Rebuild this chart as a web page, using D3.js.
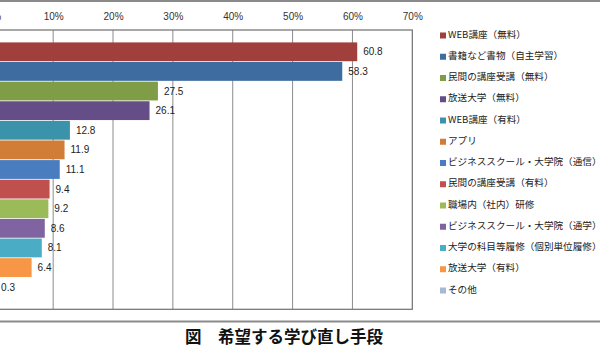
<!DOCTYPE html>
<html><head><meta charset="utf-8">
<script src="https://cdn.jsdelivr.net/npm/d3@7"></script>
<style>html,body{margin:0;padding:0;background:#fff;overflow:hidden}</style>
</head><body>
<svg id="c" width="600" height="359"></svg>
<script>
const categories = ["WEB講座（無料）","書籍など書物（自主学習）","民間の講座受講（無料）","放送大学（無料）","WEB講座（有料）","アプリ","ビジネススクール・大学院（通信）","民間の講座受講（有料）","職場内（社内）研修","ビジネススクール・大学院（通学）","大学の科目等履修（個別単位履修）","放送大学（有料）","その他"];
const values = [60.8,58.3,27.5,26.1,12.8,11.9,11.1,9.4,9.2,8.6,8.1,6.4,0.3];
const colors = ["#A13F3D","#3E6CA0","#7F9C47","#654E87","#3A93AA","#D17D38","#4A7DBF","#C0504D","#9BBB59","#8064A2","#4BACC6","#F79646","#A7B7D8"];
const ticks = [0,10,20,30,40,50,60,70];
const title = "図　希望する学び直し手段";

const svg = d3.select("#c");
const x = d3.scaleLinear().domain([0,70]).range([-6.7,412.3]);
const y = d3.scaleBand().domain(categories).range([42,297]).paddingInner(0);
const plotTop = 30, plotBottom = 309.3;

// outer chart border
svg.append("line").attr("x1",-5).attr("x2",605).attr("y1",1).attr("y2",1).attr("stroke","#8a8a8a").attr("stroke-width",2);
svg.append("line").attr("x1",-5).attr("x2",605).attr("y1",321.5).attr("y2",321.5).attr("stroke","#8a8a8a").attr("stroke-width",2);

// gridlines
svg.append("g").selectAll("line").data(ticks.slice(1,-1)).join("line")
  .attr("x1",d=>x(d)).attr("x2",d=>x(d)).attr("y1",plotTop).attr("y2",plotBottom)
  .attr("stroke","#8c8c8c").attr("stroke-width",1);

// plot border
svg.append("rect").attr("x",x(0)-5).attr("y",plotTop).attr("width",x(70)-x(0)+5).attr("height",plotBottom-plotTop)
  .attr("fill","none").attr("stroke","#6f6f6f").attr("stroke-width",1.2);

// axis on top
const axis = d3.axisTop(x).tickValues(ticks).tickFormat(d=>d+"%").tickSize(0).tickPadding(0);
const ag = svg.append("g").attr("transform","translate(0,20)").call(axis);
ag.select(".domain").remove();
ag.selectAll("text").attr("font-family","Liberation Sans, Arial, sans-serif").attr("font-size",10).attr("fill","#333");

// bars
svg.append("g").selectAll("rect").data(categories).join("rect")
  .attr("x",x(0)).attr("y",d=>y(d)+0.4)
  .attr("width",(d,i)=>x(values[i])-x(0)).attr("height",y.bandwidth()-0.8)
  .attr("fill",(d,i)=>colors[i]);

// labels
svg.append("g").selectAll("text").data(categories).join("text")
  .attr("x",(d,i)=>x(values[i])+6).attr("y",d=>y(d)+y.bandwidth()/2+3.5)
  .attr("font-family","Liberation Sans, Arial, sans-serif").attr("font-size",10).attr("fill","#222")
  .text((d,i)=>values[i].toFixed(1));

// legend
const lg = svg.append("g");
const ly = d3.scaleLinear().domain([0,12]).range([34,289]);
categories.forEach((c,i)=>{
  lg.append("rect").attr("x",440).attr("y",ly(i)-1.5).attr("width",6).attr("height",6).attr("fill",colors[i]);
  lg.append("text").attr("x",448).attr("y",ly(i)+3.5)
    .attr("font-family","Noto Sans CJK JP, sans-serif").attr("font-size",9.6).attr("fill","#222").text(c);
});

// title
svg.append("text").attr("x",185).attr("y",343).attr("font-family","Noto Sans CJK JP, sans-serif")
  .attr("font-weight","bold").attr("font-size",16.5).attr("fill","#111").text(title);
</script>
</body></html>
